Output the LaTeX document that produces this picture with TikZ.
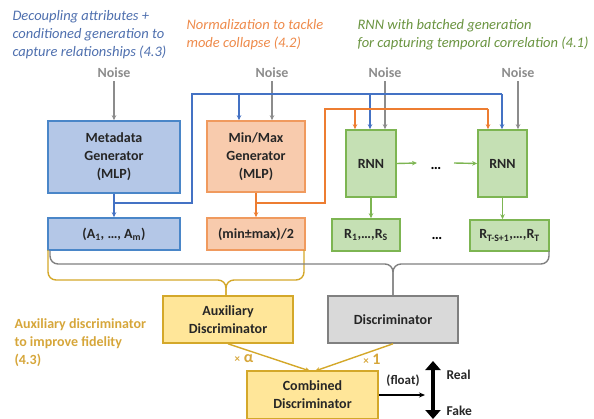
\documentclass[tikz,border=0pt]{standalone}
\usepackage{fontspec}
\setmainfont{Carlito}
\usetikzlibrary{arrows.meta}
\definecolor{bfill}{HTML}{B4C7E7}
\definecolor{bdraw}{HTML}{4A86C8}
\definecolor{bline}{HTML}{4472C4}
\definecolor{ofill}{HTML}{F8CBAD}
\definecolor{odraw}{HTML}{F09A5E}
\definecolor{oline}{HTML}{ED7D31}
\definecolor{gfill}{HTML}{C5E0B4}
\definecolor{gdraw}{HTML}{7DB552}
\definecolor{yfill}{HTML}{FFE699}
\definecolor{ydraw}{HTML}{D4A82A}
\definecolor{kfill}{HTML}{D9D9D9}
\definecolor{kdraw}{HTML}{808080}
\definecolor{tblue}{HTML}{4E6FAE}
\definecolor{torange}{HTML}{EE8A4A}
\definecolor{tgreen}{HTML}{6A9440}
\definecolor{tgold}{HTML}{D6A63A}
\definecolor{noisec}{HTML}{8C8C8C}
\tikzset{
  box/.style={draw, line width=1.6pt, inner sep=0pt, align=center,
    font=\fontsize{14}{18}\selectfont\bfseries, text=black!85},
  bluebox/.style={box, fill=bfill, draw=bdraw},
  orbox/.style={box, fill=ofill, draw=odraw},
  grbox/.style={box, fill=gfill, draw=gdraw},
  yebox/.style={box, fill=yfill, draw=ydraw},
  gybox/.style={box, fill=kfill, draw=kdraw},
  tip/.style={-{Stealth[length=5pt,width=4.5pt]}},
  conn/.style={line width=1.4pt},
  noiselbl/.style={font=\fontsize{14}{17}\selectfont\bfseries, text=noisec},
  title/.style={anchor=west, align=left, font=\fontsize{14.5}{18}\selectfont\itshape},
  dots/.style={font=\fontsize{15}{17}\selectfont\bfseries},
  gold/.style={text=tgold, font=\fontsize{14}{18}\selectfont\bfseries}
}
\begin{document}
\begin{tikzpicture}[x=1pt,y=-1pt]
\useasboundingbox (0,0) rectangle (594,419);
% titles
\node[title, text=tblue] (t1) at (9,35) {Decoupling attributes +\\conditioned generation to\\capture relationships (4.3)};
\node[title, text=torange] (t2) at (183,34.5) {Normalization to tackle\\mode collapse (4.2)};
\node[title, text=tgreen] (t3) at (354,34.5) {RNN with batched generation\\for capturing temporal correlation (4.1)};
\node[title, anchor=west, align=left, gold] (t4) at (11,343) {Auxiliary discriminator\\to improve fidelity\\(4.3)};
% noise
\node[noiselbl] (n1) at (114,73) {Noise};
\node[noiselbl] (n2) at (272,73) {Noise};
\node[noiselbl] (n3) at (385,73) {Noise};
\node[noiselbl] (n4) at (518,73) {Noise};
% boxes
\node[bluebox, minimum width=132pt, minimum height=72pt] (meta) at (114,157) {Metadata\\Generator\\(MLP)};
\node[bluebox, minimum width=132pt, minimum height=32pt] (attr) at (114,234) {(A\textsubscript{1}, …, A\textsubscript{m})};
\node[orbox, minimum width=98pt, minimum height=71pt] (mm) at (256,156.5) {Min/Max\\Generator\\(MLP)};
\node[orbox, minimum width=98pt, minimum height=32pt] (mmout) at (256,234) {(min±max)/2};
\node[grbox, minimum width=50pt, minimum height=67pt] (rnn1) at (371,163.5) {RNN};
\node[grbox, minimum width=49pt, minimum height=67pt] (rnn2) at (502.5,163.5) {RNN};
\node[grbox, minimum width=68pt, minimum height=32pt] (r1) at (366,235) {R\textsubscript{1},…,R\textsubscript{S}};
\node[grbox, minimum width=79pt, minimum height=31pt] (r2) at (509.5,235.5) {R\textsubscript{T-S+1},…,R\textsubscript{T}};
\node[dots] (d1) at (436,168) {…};
\node[dots] (d2) at (437,238) {…};
\node[yebox, minimum width=130pt, minimum height=47pt] (aux) at (228,319.5) {Auxiliary\\Discriminator};
\node[gybox, minimum width=130pt, minimum height=47pt] (disc) at (393,319.5) {Discriminator};
\node[yebox, minimum width=131pt, minimum height=48pt] (comb) at (312.5,395) {Combined\\Discriminator};
% noise arrows
\foreach \n/\b in {n1/meta, n2/mm, n3/rnn1, n4/rnn2}
  \draw[conn, noisec, tip] (\n.south) -- (\n.south |- \b.north);
% blue wiring
\coordinate (bj) at (114,203);
\coordinate (bc1) at (192,203);
\coordinate (bc2) at (192,94);
\coordinate (bx1) at (239,94);
\coordinate (bx2) at (370,94);
\coordinate (bx3) at (502,94);
\draw[conn, bline, tip] (meta.south) -- (attr.north);
\draw[conn, bline] (bj) -- (bc1) -- (bc2) -- (bx3);
\draw[conn, bline, tip] (bx1) -- (bx1 |- mm.north);
\draw[conn, bline, tip] (bx2) -- (bx2 |- rnn1.north);
\draw[conn, bline, tip] (bx3) -- (bx3 |- rnn2.north);
% orange wiring
\coordinate (oj) at (256,203);
\coordinate (oc1) at (325,203);
\coordinate (oc2) at (325,109);
\coordinate (ox1) at (355,109);
\coordinate (ox2) at (488,109);
\draw[conn, oline, tip] (mm.south) -- (mmout.north);
\draw[conn, oline] (oj) -- (oc1) -- (oc2) -- (ox2);
\draw[conn, oline, tip] (ox1) -- (ox1 |- rnn1.north);
\draw[conn, oline, tip] (ox2) -- (ox2 |- rnn2.north);
% green
\draw[conn, gdraw, tip] (rnn1.south) -- (rnn1.south |- r1.north);
\draw[conn, gdraw, tip] (rnn2.south) -- (rnn2.south |- r2.north);
\coordinate (ga) at (417,163);
\coordinate (gb) at (454,163);
\draw[conn, gdraw, tip] (rnn1.east) -- (ga);
\draw[conn, gdraw, tip] (gb) -- (rnn2.west);
% yellow brace
\coordinate (yl) at (48,250);
\coordinate (yr) at (304,250);
\coordinate (ys) at (226,280);
\draw[conn, ydraw, rounded corners=8pt] (yl) -- (48,280) -- (ys) -- (ys |- aux.north);
\draw[conn, ydraw, rounded corners=8pt] (yr) -- (304,280) -- (ys) -- (ys |- aux.north);
% gray brace
\coordinate (gl) at (50,251);
\coordinate (gr) at (549,251);
\coordinate (gs) at (393,264);
\draw[conn, kdraw, rounded corners=8pt] (gl) -- (50,264) -- (gs) -- (disc.north);
\draw[conn, kdraw, rounded corners=8pt] (gr) -- (549,264) -- (gs) -- (disc.north);
% to combined
\coordinate (ca) at (310,371);
\coordinate (cb) at (315,371);
\draw[conn, ydraw, tip] (aux.south) -- (ca);
\draw[conn, ydraw, tip] (disc.south) -- (cb);
\node[gold, font=\fontsize{16}{18}\selectfont\bfseries] (la) at (244,359) {{\fontsize{11}{12}\selectfont×} α};
\node[gold, font=\fontsize{16}{18}\selectfont\bfseries] (lb) at (372,359) {{\fontsize{11}{12}\selectfont×} 1};
% output
\coordinate (fo) at (425,395);
\draw[line width=1.3pt, -{Stealth[length=6pt,width=5pt]}] (comb.east) -- (fo);
\node[font=\fontsize{13}{16}\selectfont\bfseries, text=black!85] (fl) at (403,381) {(float)};
\coordinate (rt) at (433,361);
\coordinate (fk) at (433,419);
\draw[line width=4pt, {Triangle[length=9pt,width=15pt]}-{Triangle[length=9pt,width=15pt]}] (rt) -- (fk);
\node[font=\fontsize{13.5}{16}\selectfont\bfseries, text=black!85, anchor=west] (real) at (443,375) {Real};
\node[font=\fontsize{13.5}{16}\selectfont\bfseries, text=black!85, anchor=west] (fake) at (443,411) {Fake};
\end{tikzpicture}
\end{document}
